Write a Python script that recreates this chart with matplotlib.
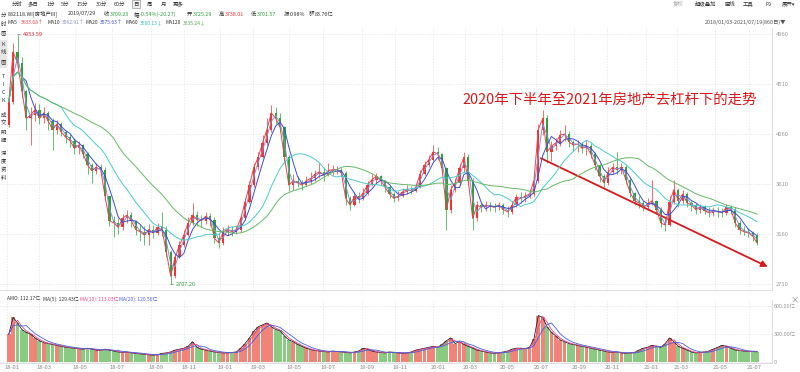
import numpy as np
import pandas as pd
import matplotlib
matplotlib.use('Agg')
import matplotlib.pyplot as plt
from matplotlib.transforms import ScaledTranslation

plt.rcParams['font.family'] = ['Noto Sans CJK SC', 'DejaVu Sans']

# 882118.WI 房地产III  2018/01/03-2021/07/19, 截图估读, 每根 = 5 个交易日
first_open = 4140
close = [4350, 4800, 4700, 4450, 4200, 4230, 4280, 4200, 4250, 4180,
         4100, 4150, 4080, 4030, 4000, 3930, 3960, 3880, 3780, 3730,
         3760, 3740, 3500, 3280, 3260, 3220, 3300, 3330, 3280, 3200,
         3180, 3150, 3200, 3170, 3220, 3200, 3000, 2780, 2950, 3060,
         3150, 3260, 3330, 3290, 3280, 3320, 3290, 3120, 3080, 3180,
         3200, 3180, 3200, 3300, 3450, 3600, 3760, 3850, 3980, 4100,
         4250, 4200, 4120, 3850, 3600, 3640, 3620, 3600, 3640, 3660,
         3700, 3720, 3690, 3730, 3740, 3740, 3709, 3480, 3420, 3500,
         3480, 3530, 3600, 3650, 3680, 3640, 3580, 3520, 3480, 3500,
         3540, 3560, 3550, 3580, 3700, 3780, 3830, 3900, 3880, 3750,
         3380, 3560, 3620, 3750, 3850, 3640, 3300, 3420, 3400, 3420,
         3410, 3400, 3420, 3380, 3360, 3420, 3490, 3480, 3500, 3520,
         3640, 4100, 4200, 3900, 3950, 3980, 4050, 4060, 3990, 3960,
         3970, 3930, 3950, 3880, 3780, 3680, 3620, 3720, 3760, 3740,
         3760, 3650, 3530, 3460, 3440, 3400, 3430, 3460, 3380, 3260,
         3240, 3450, 3560, 3460, 3520, 3440, 3420, 3380, 3400, 3370,
         3350, 3370, 3360, 3350, 3400, 3380, 3260, 3200, 3180, 3170,
         3140, 3080]
high = [4420, 4880, 4953.59, 4750, 4460, 4300, 4340, 4330, 4300, 4270,
        4200, 4190, 4170, 4100, 4060, 4020, 4000, 3970, 3900, 3800,
        3800, 3790, 3760, 3500, 3320, 3300, 3340, 3380, 3360, 3290,
        3240, 3230, 3250, 3240, 3260, 3360, 3230, 3020, 2980, 3100,
        3200, 3310, 3440, 3370, 3330, 3360, 3350, 3310, 3170, 3220,
        3240, 3230, 3240, 3330, 3480, 3640, 3800, 3900, 4050, 4200,
        4320, 4300, 4250, 4130, 3870, 3700, 3680, 3650, 3680, 3720,
        3740, 3800, 3760, 3800, 3780, 3770, 3760, 3730, 3500, 3540,
        3540, 3570, 3640, 3700, 3710, 3690, 3650, 3600, 3540, 3550,
        3570, 3600, 3590, 3620, 3740, 3820, 3870, 3960, 3940, 3890,
        3760, 3600, 3660, 3790, 3900, 3880, 3660, 3460, 3450, 3460,
        3450, 3440, 3450, 3440, 3410, 3460, 3520, 3540, 3540, 3560,
        3680, 4150, 4276, 4230, 4000, 4020, 4100, 4140, 4090, 4010,
        4010, 3990, 4010, 3980, 3900, 3790, 3700, 3760, 3800, 3900,
        3800, 3780, 3660, 3540, 3500, 3460, 3480, 3645, 3470, 3400,
        3300, 3500, 3645, 3570, 3560, 3540, 3460, 3440, 3430, 3420,
        3400, 3400, 3400, 3390, 3430, 3420, 3400, 3290, 3230, 3210,
        3190, 3170]
low = [4120, 4330, 4650, 4380, 4100, 3960, 4180, 4150, 4160, 4100,
       3920, 4060, 4040, 3980, 3940, 3880, 3880, 3840, 3700, 3620,
       3700, 3680, 3460, 3230, 3130, 3160, 3200, 3260, 3220, 3150,
       3100, 3060, 3060, 3120, 3150, 3140, 2950, 2707.26, 2760, 2940,
       3040, 3140, 3240, 3230, 3220, 3250, 3230, 3080, 3030, 3060,
       3150, 3140, 3160, 3180, 3290, 3440, 3580, 3740, 3840, 3960,
       4080, 4150, 4080, 3800, 3550, 3560, 3580, 3560, 3590, 3610,
       3640, 3660, 3640, 3680, 3690, 3700, 3680, 3420, 3380, 3410,
       3440, 3470, 3510, 3590, 3620, 3600, 3540, 3480, 3450, 3460,
       3490, 3520, 3520, 3540, 3570, 3690, 3760, 3820, 3830, 3700,
       3200, 3350, 3540, 3600, 3720, 3600, 3200, 3280, 3360, 3370,
       3370, 3360, 3380, 3340, 3315, 3340, 3400, 3440, 3450, 3480,
       3500, 3620, 4050, 3800, 3820, 3920, 3950, 4000, 3940, 3910,
       3900, 3890, 3870, 3840, 3740, 3630, 3580, 3600, 3700, 3700,
       3700, 3610, 3490, 3420, 3390, 3370, 3380, 3420, 3340, 3220,
       3190, 3230, 3430, 3400, 3430, 3400, 3370, 3340, 3350, 3340,
       3310, 3320, 3310, 3310, 3330, 3340, 3220, 3160, 3150, 3130,
       3100, 3060]
# 日均成交额(亿)
amo = [300, 480, 420, 350, 320, 300, 260, 230, 210, 200,
       190, 180, 170, 160, 155, 150, 145, 140, 150, 140,
       130, 125, 140, 130, 120, 110, 105, 110, 100, 95,
       90, 85, 80, 75, 80, 95, 100, 110, 130, 140,
       150, 170, 220, 160, 140, 130, 120, 110, 105, 100,
       100, 105, 110, 150, 200, 260, 330, 380, 400, 420,
       380, 350, 340, 280, 240, 220, 190, 170, 150, 135,
       125, 120, 115, 110, 120, 115, 110, 105, 100, 110,
       120, 150, 140, 120, 110, 105, 100, 110, 105, 100,
       95, 100, 110, 130, 140, 150, 160, 170, 160, 190,
       230, 260, 200, 220, 190, 170, 150, 130, 120, 110,
       100, 95, 100, 110, 120, 140, 150, 150, 145, 160,
       250, 500, 480, 380, 320, 280, 240, 220, 200, 190,
       180, 170, 160, 150, 140, 130, 120, 110, 105, 110,
       100, 95, 100, 105, 130, 150, 160, 180, 170, 160,
       200, 260, 220, 170, 150, 130, 110, 100, 105, 110,
       120, 140, 160, 180, 170, 150, 130, 125, 120, 115,
       115, 112.17]

date_labels = ['18-01', '18-03', '18-05', '18-07', '18-09', '18-11',
               '19-01', '19-03', '19-05', '19-07', '19-09', '19-11',
               '20-01', '20-03', '20-05', '20-07', '20-09', '20-11',
               '21-01', '21-03', '21-05', '21-07']
date_days = [0, 37, 78, 120, 165, 202, 243, 281, 322, 361, 406, 443,
             487, 523, 566, 604, 648, 686, 730, 765, 809, 848]
price_ticks = [2710, 3160, 3610, 4060, 4510, 4960]
amo_ticks = [0, 300, 600]
amo_tick_labels = ['0', '300.00亿', '600.00亿']

RED = '#ec3434'
GREEN = '#2f9f3f'
GRID = '#e2e2e2'
ma_lines = [('MA5', 1, '#e8474c'), ('MA10', 2, '#8c8fc8'), ('MA20', 4, '#3a4fd0'),
            ('MA60', 12, '#4cc9c9'), ('MA120', 24, '#66b866')]
amo_ma_lines = [('MA(5)', 1, '#222222'), ('MA(10)', 2, '#e8478a'), ('MA(20)', 4, '#4a5fe0')]

W, H = 800, 372
fig = plt.figure(figsize=(W / 100, H / 100), dpi=100)


def rect(x0, y0, x1, y1):
    return [x0 / W, 1 - y1 / H, (x1 - x0) / W, (y1 - y0) / H]


def ftext(x, y, s, **kw):
    kw.setdefault('fontsize', 3.9)
    kw.setdefault('va', 'center')
    kw.setdefault('color', '#333333')
    return fig.text(x / W, 1 - y / H, s, **kw)


ax = fig.add_axes(rect(0, 28, 772, 290))
axv = fig.add_axes(rect(0, 300, 772, 363))

n = len(close)
x = np.arange(n) * 5 + 2
c = np.array(close, dtype=float)
o = np.r_[first_open, c[:-1]]
hi = np.array(high, dtype=float)
lo = np.array(low, dtype=float)
up = c >= o
col = np.where(up, RED, GREEN)

# K线
ax.vlines(x, lo, hi, colors=col, lw=0.5, zorder=2)
body = np.maximum(np.abs(c - o), 6)
ax.bar(x, body, bottom=np.minimum(o, c), width=2.6, color=col, lw=0, zorder=3)

for name, w, color in ma_lines:
    ma = pd.Series(c).rolling(w, min_periods=1).mean()
    ax.plot(x, ma, color=color, lw=0.7, zorder=4)

# 最高 / 最低
ih, il = int(np.argmax(hi)), int(np.argmin(lo))
ax.annotate(f'{hi[ih]:.2f}', xy=(x[ih], hi[ih]), xytext=(4, 0), textcoords='offset points',
            fontsize=4.0, color='#d9272e', va='center',
            arrowprops=dict(arrowstyle='-', color='#5a6fb0', lw=0.5, shrinkA=0, shrinkB=0))
ax.annotate(f'{lo[il]:.2f}', xy=(x[il], lo[il]), xytext=(4, 0), textcoords='offset points',
            fontsize=4.0, color='#2f9f3f', va='center',
            arrowprops=dict(arrowstyle='-', color='#2f9f3f', lw=0.5, shrinkA=0, shrinkB=0))

ax.set_xlim(-8, 874)
ax.set_ylim(2656, 5014)
ax.set_xticks(date_days)
ax.set_yticks(price_ticks)
ax.yaxis.tick_right()
ax.tick_params(axis='x', length=0, labelbottom=False)
ax.tick_params(axis='y', length=0, pad=3, labelsize=4.2, labelcolor='#999999')
ax.grid(True, color=GRID, lw=0.5, ls=(0, (2, 2)))

# 成交额
v = np.array(amo, dtype=float)
vcol = np.where(up, '#f08478', '#8acb84')
axv.bar(x, v, width=4.4, color=vcol, lw=0, zorder=2)
for name, w, color in amo_ma_lines:
    axv.plot(x, pd.Series(v).rolling(w, min_periods=1).mean(), color=color, lw=0.6, zorder=3)
axv.set_xlim(-8, 874)
axv.set_ylim(-8, 666)
axv.set_yticks(amo_ticks, amo_tick_labels)
axv.yaxis.tick_right()
axv.set_xticks(date_days, date_labels)
axv.tick_params(axis='x', length=0, pad=1.5, labelsize=4.2, labelcolor='#888888')
axv.tick_params(axis='y', length=0, pad=1, labelsize=4.0, labelcolor='#999999')
for lab in axv.get_xticklabels():
    lab.set_transform(lab.get_transform() + ScaledTranslation(5 / 100, 0, fig.dpi_scale_trans))
axv.grid(True, color=GRID, lw=0.5, ls=(0, (2, 2)))

for a in (ax, axv):
    a.set_axisbelow(True)
    for s in ('top', 'left'):
        a.spines[s].set_visible(False)
    for s in ('bottom', 'right'):
        a.spines[s].set_color('#d8d8d8')
        a.spines[s].set_linewidth(0.6)

# 注释
ax.annotate('', xy=(872, 2854), xytext=(607, 3853), annotation_clip=False,
            arrowprops=dict(arrowstyle='-|>', color='#d7191c', lw=1.3, mutation_scale=9))
ftext(462, 100, '2020年下半年至2021年房地产去杠杆下的走势', fontsize=10.4, color='#d7191c')

# 顶部工具栏
for s, px in [('分时', 12), ('多日', 28), ('1分', 47), ('5分', 61), ('15分', 77), ('30分', 96),
              ('60分', 114), ('日', 133), ('周', 147), ('月', 161), ('更多', 173)]:
    t = ftext(px, 4, s)
    if s == '日':
        t.set_bbox(dict(boxstyle='square,pad=0.25', fc='#eeeeee', ec='#999999', lw=0.5))
for s, px, cc in [('复权', 673, '#aaaaaa'), ('超级叠加', 695, '#333333'), ('画线', 725, '#333333'),
                  ('工具', 743, '#333333'), ('F9', 765, '#333333'), ('展开▾', 782, '#333333')]:
    ftext(px, 4, s, color=cc)

# 行情信息
for px, s, cc in [(8, '882118.WI[房地产III]', '#333333'), (68, '2019/07/29', '#333333'),
                  (104, '收', '#333333'), (110, '3709.23', GREEN), (134, '幅', '#333333'),
                  (140, '-0.54%(-20.27)', GREEN), (187, '开', '#333333'), (193, '3725.29', GREEN),
                  (219, '高', '#333333'), (225, '3738.01', RED), (251, '低', '#333333'),
                  (257, '3701.57', GREEN), (284, '振', '#333333'), (290, '0.98%', '#333333'),
                  (309, '额', '#333333'), (315, '83.76亿', '#333333')]:
    ftext(px, 14, s, color=cc)
for px, s, cc in [(8, 'MA5', '#333333'), (21, '3633.68↑', '#e8474c'), (47, 'MA10', '#333333'),
                  (62, '3562.91↑', '#8c8fc8'), (86, 'MA20', '#333333'), (100, '3575.63↑', '#3a4fd0'),
                  (125, 'MA60', '#333333'), (140, '3560.13↓', '#3cbcbc'), (165, 'MA120', '#333333'),
                  (183, '3635.24↓', '#55aa55')]:
    ftext(px, 23, s, color=cc, fontsize=3.6)
ftext(705, 22, '2018/01/03-2021/07/19(860日)▼', color='#555555', fontsize=3.9)
for px, s, cc in [(7, 'AMO: 112.17亿', '#333333'), (43, 'MA(5): 129.43亿', '#333333'),
                  (80, 'MA(10): 113.03亿', '#e8478a'), (119, 'MA(20): 120.56亿', '#4a5fe0')]:
    ftext(px, 299, s, color=cc, fontsize=3.5)
ftext(795, 300, '×', color='#888888', fontsize=6, ha='center')

# 左侧竖排标签
fig.patches.append(plt.Rectangle((0, 1 - 68 / H), 7 / W, 28 / H, transform=fig.transFigure,
                                 fc='#e6e6e6', ec='none'))
for s, py in [('分', 15), ('时', 24), ('图', 33), ('K', 45), ('线', 53), ('图', 62),
              ('T', 77), ('I', 84), ('C', 92), ('K', 100), ('成', 115), ('交', 123),
              ('明', 132), ('细', 140), ('深', 153), ('度', 162), ('资', 170), ('料', 178)]:
    ftext(3.2, py, s, ha='center', fontsize=3.9)

fig.savefig('out.png', dpi=100)
